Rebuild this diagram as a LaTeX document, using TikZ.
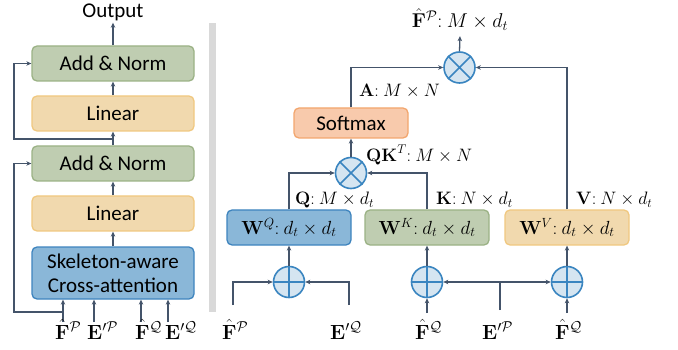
\RequirePackage{fix-cm}
\documentclass[tikz,border=0pt]{standalone}
\usepackage{amsmath}
\usepackage[no-math]{fontspec}
\setmainfont{Carlito}
\usetikzlibrary{arrows.meta}
\definecolor{ln}{RGB}{68,84,106}
\definecolor{gfill}{RGB}{191,205,177}
\definecolor{gdraw}{RGB}{155,178,133}
\definecolor{tfill}{RGB}{241,217,174}
\definecolor{tdraw}{RGB}{240,200,128}
\definecolor{bfill}{RGB}{138,183,216}
\definecolor{bdraw}{RGB}{62,132,190}
\definecolor{ofill}{RGB}{248,202,172}
\definecolor{odraw}{RGB}{242,166,110}
\definecolor{cfill}{RGB}{213,229,241}
\definecolor{cdraw}{RGB}{58,133,192}
\definecolor{bar}{RGB}{217,217,217}
\newcommand{\xx}{{:}\ }
\tikzset{
  boxbase/.style={rounded corners=5pt, line width=1.3pt, inner sep=0pt,
    font=\fontsize{21}{23}\selectfont},
  gbox/.style={boxbase, draw=gdraw, fill=gfill, minimum width=162pt, minimum height=35pt},
  tbox/.style={boxbase, draw=tdraw, fill=tfill, minimum width=162pt, minimum height=35pt},
  bbox/.style={boxbase, draw=bdraw, fill=bfill, minimum width=162pt, minimum height=52pt},
  wbox/.style={boxbase, minimum width=124pt, minimum height=35pt, font=\fontsize{19}{22}\selectfont},
  obox/.style={boxbase, draw=odraw, fill=ofill, minimum width=114pt, minimum height=30pt},
  opc/.style={circle, draw=cdraw, fill=cfill, line width=1.6pt, minimum size=31pt, inner sep=0pt},
  opl/.style={draw=cdraw, line width=1.6pt},
  arr/.style={draw=ln, line width=1.3pt, -{Stealth[length=5pt,width=4.5pt]}},
  plain/.style={draw=ln, line width=1.3pt},
  lab/.style={inner sep=0pt, font=\fontsize{18}{20}\selectfont},
  inlab/.style={inner sep=0pt, font=\fontsize{20.5}{22}\selectfont},
}
\begin{document}
\begin{tikzpicture}[x=1pt,y=-1pt]
\useasboundingbox (0,0) rectangle (678,350);
% gray separator
\fill[bar] (209,23) rectangle (216,312);
% ---------- left column ----------
\node[inner sep=2pt, font=\fontsize{21}{23}\selectfont] (out) at (113,12) {Output};
\node[gbox] (an1) at (113,63.5) {Add \& Norm};
\node[tbox] (lin1) at (113,113.5) {Linear};
\node[gbox] (an2) at (113,163.5) {Add \& Norm};
\node[tbox] (lin2) at (113,213.5) {Linear};
\node[bbox, align=center] (sk) at (113,273) {Skeleton-aware\\[1pt]Cross-attention};
\draw[arr] (an1.north) -- (out.south);
\draw[arr] (lin1.north) -- (an1.south);
\draw[arr] (an2.north) -- (lin1.south);
\draw[arr] (lin2.north) -- (an2.south);
\draw[arr] (sk.north) -- (lin2.south);
\coordinate (lx) at (14,0);
\coordinate (r1) at (113,139);
\draw[arr] (r1) -- (r1 -| lx) |- (an1.west);
\coordinate (i1) at (63,322);
\coordinate (i2) at (94,322);
\coordinate (i3) at (141,322);
\coordinate (i4) at (168,322);
\coordinate (r2) at (63,312);
\draw[arr] (i1) -- (i1 |- sk.south);
\draw[arr] (i2) -- (i2 |- sk.south);
\draw[arr] (i3) -- (i3 |- sk.south);
\draw[arr] (i4) -- (i4 |- sk.south);
\draw[arr] (r2) -- (r2 -| lx) |- (an2.west);
\node[inlab, anchor=base west] (lf1) at (55,339) {$\hat{\mathbf{F}}^{\mathcal{P}}$};
\node[inlab, anchor=base west] (le1) at (87,339) {$\mathbf{E}'^{\mathcal{P}}$};
\node[inlab, anchor=base west] (lf2) at (135,339) {$\hat{\mathbf{F}}^{\mathcal{Q}}$};
\node[inlab, anchor=base west] (le2) at (165,339) {$\mathbf{E}'^{\mathcal{Q}}$};
% ---------- right part ----------
\node[obox] (sm) at (351,123) {Softmax};
\node[wbox, draw=bdraw, fill=bfill] (wq) at (289,227.5) {$\mathbf{W}^{Q}\xx d_t\times d_t$};
\node[wbox, draw=gdraw, fill=gfill] (wk) at (427,227.5) {$\mathbf{W}^{K}\xx d_t\times d_t$};
\node[wbox, draw=tdraw, fill=tfill] (wv) at (567,227.5) {$\mathbf{W}^{V}\xx d_t\times d_t$};
% multiply circles
\node[opc] (m2) at (459.5,67.5) {};
\draw[opl] (m2.45) -- (m2.225) (m2.135) -- (m2.315);
\node[opc] (m1) at (351,173) {};
\draw[opl] (m1.45) -- (m1.225) (m1.135) -- (m1.315);
% plus circles
\node[opc] (pq) at (289,282) {};
\draw[opl] (pq.north) -- (pq.south) (pq.east) -- (pq.west);
\node[opc] (pk) at (427,282) {};
\draw[opl] (pk.north) -- (pk.south) (pk.east) -- (pk.west);
\node[opc] (pv) at (567,282) {};
\draw[opl] (pv.north) -- (pv.south) (pv.east) -- (pv.west);
% output label
\node[lab, font=\fontsize{20}{22}\selectfont] (ol) at (460,20) {$\hat{\mathbf{F}}^{\mathcal{P}}\xx M\times d_t$};
\draw[arr] (m2.north) -- ([yshift=-5pt]ol.south);
\draw[arr] (sm.north) |- (m2.west);
\draw[arr] (wv.north) |- (m2.east);
\draw[arr] (m1.north) -- (sm.south);
\draw[arr] (wq.north) |- (m1.west);
\draw[arr] (wk.north) |- (m1.east);
\draw[arr] (pq.north) -- (wq.south);
\draw[arr] (pk.north) -- (wk.south);
\draw[arr] (pv.north) -- (wv.south);
% inputs
\coordinate (fp) at (233,305);
\coordinate (eq) at (349,305);
\coordinate (fq1) at (427,313);
\coordinate (fq2) at (567,313);
\coordinate (ep) at (500,310);
\draw[arr] (fp) |- (pq.west);
\draw[arr] (eq) |- (pq.east);
\draw[arr] (fq1) -- (pk.south);
\draw[arr] (fq2) -- (pv.south);
\draw[draw=ln, line width=1.3pt, {Stealth[length=5pt,width=4.5pt]}-{Stealth[length=5pt,width=4.5pt]}] (pk.east) -- (pv.west);
\draw[plain] (ep) -- (ep |- pk.east);
% labels
\node[lab, anchor=west] (la) at (359,91) {$\mathbf{A}\xx M\times N$};
\node[lab, anchor=west] (lqk) at (366,155) {$\mathbf{QK}^{T}\xx M\times N$};
\node[lab, anchor=west] (lq) at (295,200) {$\mathbf{Q}\xx M\times d_t$};
\node[lab, anchor=west] (lk) at (436,200) {$\mathbf{K}\xx N\times d_t$};
\node[lab, anchor=west] (lv) at (576,200) {$\mathbf{V}\xx N\times d_t$};
\node[inlab, anchor=base west] (rf1) at (222,339) {$\hat{\mathbf{F}}^{\mathcal{P}}$};
\node[inlab, anchor=base west] (re1) at (330,339) {$\mathbf{E}'^{\mathcal{Q}}$};
\node[inlab, anchor=base west] (rf2) at (415,339) {$\hat{\mathbf{F}}^{\mathcal{Q}}$};
\node[inlab, anchor=base west] (re2) at (482,339) {$\mathbf{E}'^{\mathcal{P}}$};
\node[inlab, anchor=base west] (rf3) at (555,339) {$\hat{\mathbf{F}}^{\mathcal{Q}}$};
\end{tikzpicture}
\end{document}
